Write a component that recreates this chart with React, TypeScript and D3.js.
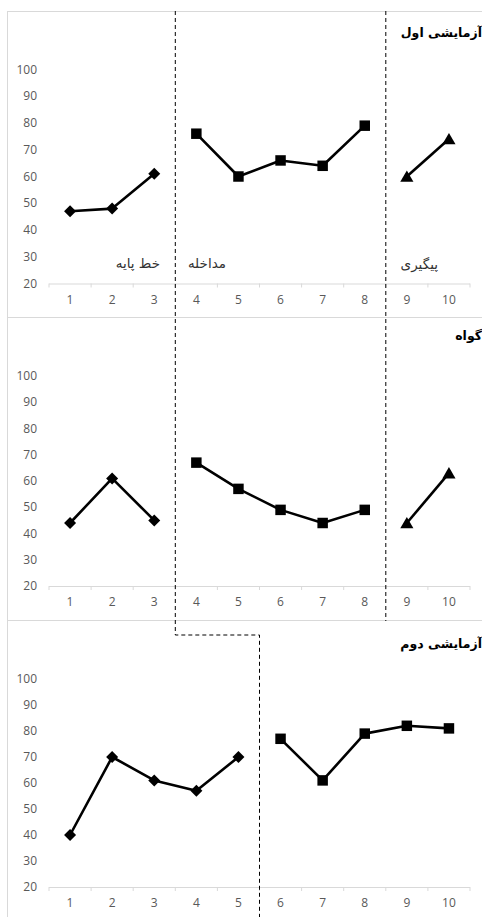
import React from "react";
import * as d3 from "d3";

const sessions = [1, 2, 3, 4, 5, 6, 7, 8, 9, 10];
const yTicks = [20, 30, 40, 50, 60, 70, 80, 90, 100];
const panelTitles = ["آزمایشی اول", "گواه", "آزمایشی دوم"];
const phaseLabels = ["خط پایه", "مداخله", "پیگیری"];

const trial1Baseline = [47, 48, 61];
const trial1Intervention = [76, 60, 66, 64, 79];
const trial1Followup = [60, 74];

const controlBaseline = [44, 61, 45];
const controlIntervention = [67, 57, 49, 44, 49];
const controlFollowup = [44, 63];

const trial2Baseline = [40, 70, 61, 57, 70];
const trial2Intervention = [77, 61, 79, 82, 81];

type Seg = { values: number[]; marker: "diamond" | "square" | "triangle" };

const panels: { title: string; segs: Seg[]; top: number; bottom: number; boxTop: number; titleY: number }[] = [
  {
    title: panelTitles[0],
    segs: [
      { values: trial1Baseline, marker: "diamond" },
      { values: trial1Intervention, marker: "square" },
      { values: trial1Followup, marker: "triangle" },
    ],
    top: 69.5,
    bottom: 283.5,
    boxTop: 11,
    titleY: 37,
  },
  {
    title: panelTitles[1],
    segs: [
      { values: controlBaseline, marker: "diamond" },
      { values: controlIntervention, marker: "square" },
      { values: controlFollowup, marker: "triangle" },
    ],
    top: 376,
    bottom: 586,
    boxTop: 317,
    titleY: 340,
  },
  {
    title: panelTitles[2],
    segs: [
      { values: trial2Baseline, marker: "diamond" },
      { values: trial2Intervention, marker: "square" },
    ],
    top: 679,
    bottom: 887,
    boxTop: 620,
    titleY: 648,
  },
];

const W = 482;
const H = 917;
const x = d3.scaleBand<number>().domain(sessions).range([49, 470]).padding(0);
const edge = (i: number) => 49 + i * x.step();

const markerPath = (m: Seg["marker"]) => {
  if (m === "diamond") return "M0,-6L6,0L0,6L-6,0Z";
  if (m === "square") return d3.symbol(d3.symbolSquare, 110)()!;
  return d3.symbol(d3.symbolTriangle, 75)()!;
};

export default function App() {
  const axisColor = "#d9d9d9";
  const labelColor = "#595959";
  const font = "'Open Sans', sans-serif";
  const arabicFont = "'DejaVu Sans', sans-serif";
  return (
    <svg width={W} height={H} style={{ position: "absolute", left: 0, top: 0, background: "#fff" }}>
      {panels.map((p, pi) => {
        const y = d3.scaleLinear().domain([20, 100]).range([p.bottom, p.top]);
        const line = d3
          .line<[number, number]>()
          .x((d) => x(d[0])! + x.bandwidth() / 2)
          .y((d) => y(d[1]));
        let start = 0;
        const segs = p.segs.map((s) => {
          const pts: [number, number][] = s.values.map((v, i) => [sessions[start + i], v]);
          start += s.values.length;
          return { pts, marker: s.marker };
        });
        return (
          <g key={pi}>
            <line x1={7.5} x2={W} y1={p.boxTop + 0.5} y2={p.boxTop + 0.5} stroke={axisColor} />
            <line x1={7.5} x2={7.5} y1={p.boxTop} y2={pi === 2 ? H : panels[pi + 1].boxTop} stroke={axisColor} />
            {yTicks.map((t) => (
              <text key={t} x={37} y={y(t)} dy="0.35em" textAnchor="end" fontSize={12} fontFamily={font} fill={labelColor}>
                {t}
              </text>
            ))}
            <line x1={49} x2={470} y1={y(20) + 0.5} y2={y(20) + 0.5} stroke={axisColor} />
            {d3.range(sessions.length + 1).map((i) => (
              <line key={i} x1={edge(i)} x2={edge(i)} y1={y(20)} y2={y(20) + 4} stroke={axisColor} />
            ))}
            {sessions.map((s) => (
              <text key={s} x={x(s)! + x.bandwidth() / 2} y={y(20) + 16} dy="0.35em" textAnchor="middle" fontSize={12} fontFamily={font} fill={labelColor}>
                {s}
              </text>
            ))}
            {segs.map((s, si) => (
              <g key={si}>
                <path d={line(s.pts)!} fill="none" stroke="#000" strokeWidth={2.6} strokeLinejoin="round" />
                {s.pts.map((d, i) => (
                  <path
                    key={i}
                    d={markerPath(s.marker)}
                    transform={`translate(${x(d[0])! + x.bandwidth() / 2},${y(d[1]) + (s.marker === "triangle" ? 1.5 : 0)})`}
                    fill="#000"
                  />
                ))}
              </g>
            ))}
            <text x={482} y={p.titleY} textAnchor="end" fontSize={12.5} fontWeight="bold" fontFamily={arabicFont} fill="#000">
              {p.title}
            </text>
          </g>
        );
      })}
      {/* phase labels in first panel */}
      <text x={160} y={268} textAnchor="end" fontSize={13.5} fontFamily={arabicFont} fill="#333">{phaseLabels[0]}</text>
      <text x={226} y={268} textAnchor="end" fontSize={13.5} fontFamily={arabicFont} fill="#333">{phaseLabels[1]}</text>
      <text x={438} y={269} textAnchor="end" fontSize={13.5} fontFamily={arabicFont} fill="#333">{phaseLabels[2]}</text>
      {/* phase change lines */}
      <path
        d={`M${edge(3)},11V635H${edge(5)}V${H}`}
        fill="none"
        stroke="#000"
        strokeWidth={1}
        strokeDasharray="4,3"
      />
      <path d={`M${edge(8)},11V621`} fill="none" stroke="#000" strokeWidth={1} strokeDasharray="4,3" />
    </svg>
  );
}
